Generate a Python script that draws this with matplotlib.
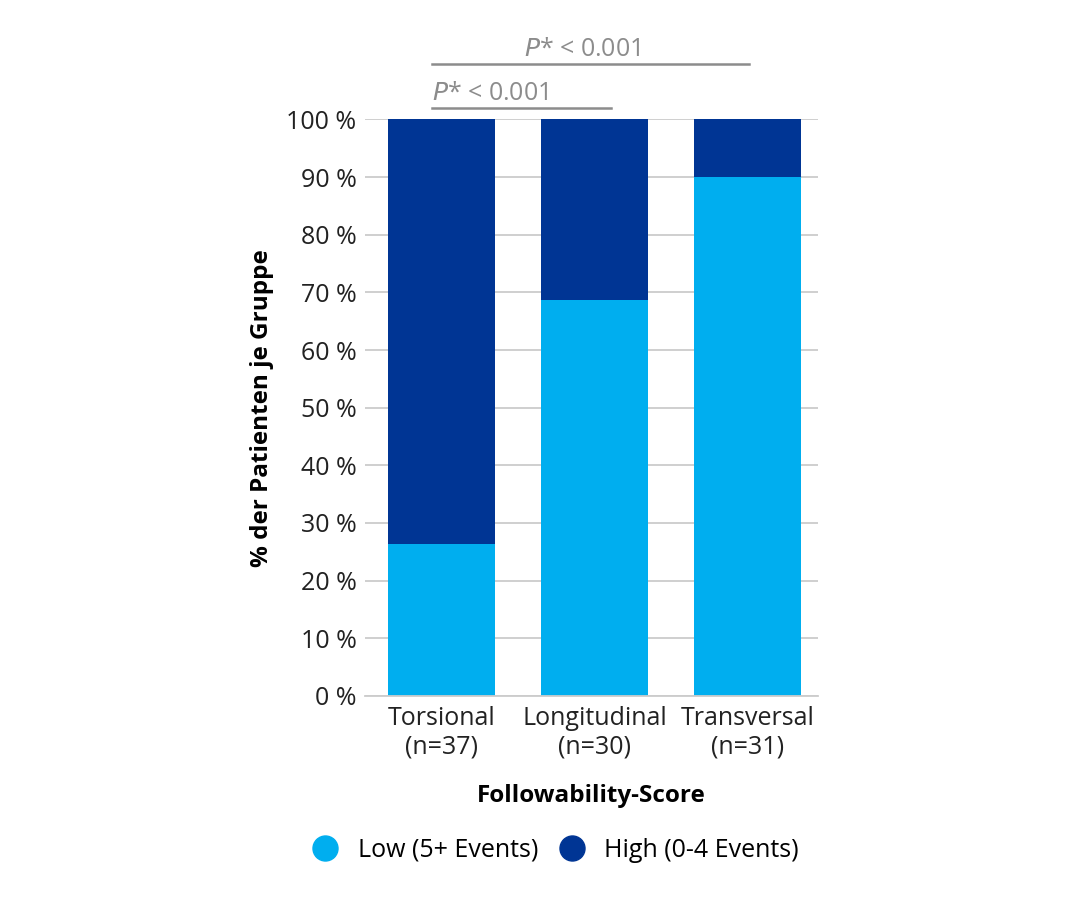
import numpy as np
import matplotlib.pyplot as plt
from matplotlib.lines import Line2D

plt.rcParams['font.family'] = ['Open Sans', 'DejaVu Sans']

categories = ['Torsional\n(n=37)', 'Longitudinal\n(n=30)', 'Transversal\n(n=31)']
low = [26.4, 68.7, 90.1]
high = [100 - v for v in low]
yticks = [0, 10, 20, 30, 40, 50, 60, 70, 80, 90, 100]
p_text = r'$\it{P}$* < 0.001'

c_low = '#00aeef'
c_high = '#003594'
c_grid = '#cccccc'
c_sig = '#8c8c8c'

fig = plt.figure(figsize=(10.86, 8.98), dpi=100)
ax = fig.add_axes([0.336, 0.225, 0.417, 0.642])

x = np.arange(len(categories))
ax.bar(x, low, width=0.7, color=c_low, zorder=2)
ax.bar(x, high, bottom=low, width=0.7, color=c_high, zorder=2)

ax.set_xlim(-0.5, 2.46)
ax.set_ylim(0, 100)
ax.set_yticks(yticks)
ax.set_yticklabels([f'{t} %' for t in yticks], fontsize=18, color='#222222')
ax.set_xticks(x)
ax.set_xticklabels(categories, fontsize=18, color='#222222', linespacing=1.2)
ax.tick_params(axis='x', length=0, pad=7)
ax.tick_params(axis='y', length=0, pad=6)
ax.yaxis.grid(True, color=c_grid, lw=1.3, zorder=0)
for s in ['top', 'right', 'left']:
    ax.spines[s].set_visible(False)
ax.spines['bottom'].set_color(c_grid)
ax.spines['bottom'].set_linewidth(1.3)

ax.set_ylabel('% der Patienten je Gruppe', fontsize=17.5, fontweight='bold', labelpad=9)
ax.set_xlabel('Followability-Score', fontsize=17.5, fontweight='bold', labelpad=18)

# significance bars
ax.plot([-0.06, 1.11], [102, 102], color=c_sig, lw=1.8, clip_on=False)
ax.text(-0.06, 102.4, p_text, fontsize=18, color=c_sig, ha='left', va='bottom')
ax.plot([-0.06, 2.01], [109.6, 109.6], color=c_sig, lw=1.8, clip_on=False)
ax.text(0.92, 110.0, p_text, fontsize=18, color=c_sig, ha='center', va='bottom')

handles = [
    Line2D([], [], marker='o', ls='', markersize=18, color=c_low, label='Low (5+ Events)'),
    Line2D([], [], marker='o', ls='', markersize=18, color=c_high, label='High (0-4 Events)'),
]
fig.legend(handles=handles, loc='center', bbox_to_anchor=(0.506, 0.053), ncol=2,
           frameon=False, fontsize=18, handletextpad=0.3, columnspacing=0.35)

fig.savefig('out.png', dpi=100)
